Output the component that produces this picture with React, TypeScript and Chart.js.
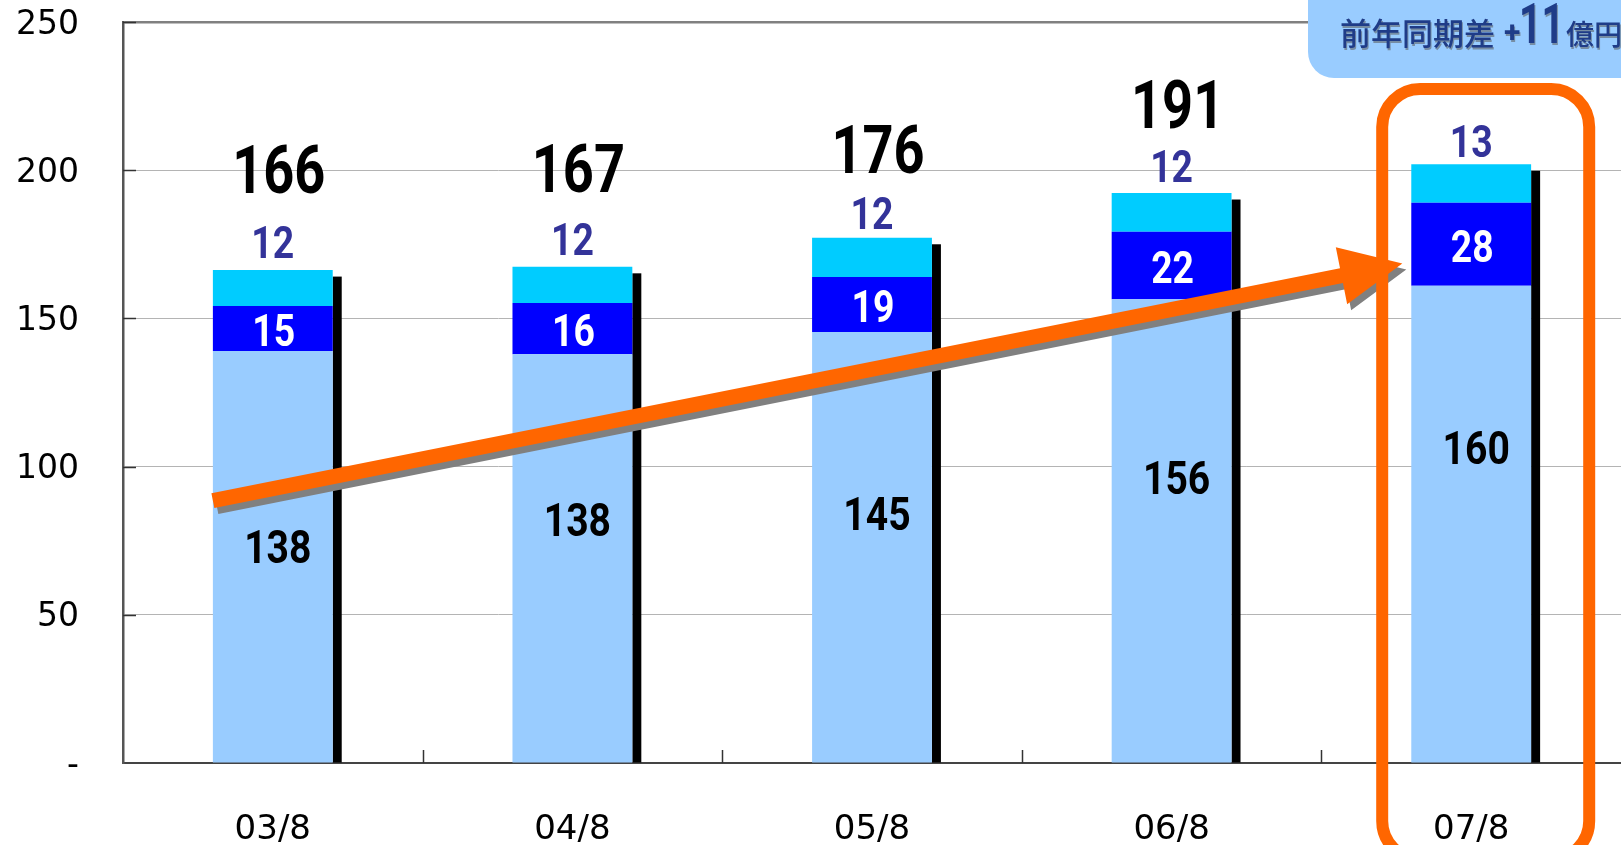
import React, { useEffect, useRef } from "react";
import { Chart, registerables } from "chart.js";

Chart.register(...registerables);

// ---- data ----
const categories = ["03/8", "04/8", "05/8", "06/8", "07/8"];
// segment heights as drawn in the picture
const baseValues = [139.0, 137.9, 145.4, 156.5, 161.0];
const midValues = [15.2, 17.3, 18.6, 22.7, 28.0];
const topValues = [12.1, 12.2, 13.2, 13.1, 13.0];
// numbers printed on the chart
const baseLabels = ["138", "138", "145", "156", "160"];
const midLabels = ["15", "16", "19", "22", "28"];
const topLabels = ["12", "12", "12", "12", "13"];
const totalLabels = ["166", "167", "176", "191", ""];
const yTickValues = [0, 50, 100, 150, 200, 250];
const badgeLead = "前年同期差";
const badgeDiff = "11";
const badgeUnit = "億円";

// ---- annotation anchors (positions, not data) ----
const baseLabelAt = [73, 82, 84, 96.4, 106.5]; // value units where the base labels sit
const totalLift = [101, 98, 88, 88, 0]; // px above the bar top
const topLift = [28, 27, 24, 27, 23]; // px above the bar top
const arrowFrom = { i: -0.2, v: 88.5 };
const arrowTo = { i: 3.77, v: 168.5 };

const NUM_FONT = "Roboto, 'Liberation Sans', sans-serif";
const AXIS_FONT = "'DejaVu Sans', sans-serif";

function numText(ctx: any, text: string, x: number, y: number, size: number, color: string, sx = 0.85) {
  ctx.save();
  ctx.font = `bold ${size}px ${NUM_FONT}`;
  ctx.fillStyle = color;
  ctx.textAlign = "center";
  ctx.textBaseline = "alphabetic";
  ctx.translate(x, y + size * 0.355);
  ctx.scale(sx, 1);
  ctx.fillText(text, 0, 0);
  ctx.restore();
}

const overlay = {
  id: "overlay",
  beforeDatasetsDraw(chart: any) {
    const ctx = chart.ctx;
    const top = chart.getDatasetMeta(2).data;
    const base = chart.getDatasetMeta(0).data;
    ctx.save();
    ctx.fillStyle = "#000";
    top.forEach((bar: any, i: number) => {
      const p = bar.getProps(["x", "y", "width"], true);
      const b = base[i].getProps(["base"], true).base;
      const x = p.x + p.width / 2;
      const y = p.y + 6.5;
      ctx.fillRect(x, y, 9, b - y);
    });
    ctx.restore();
  },
  afterDatasetsDraw(chart: any) {
    const ctx = chart.ctx;
    const xs = chart.scales.x;
    const ys = chart.scales.y;
    const area = chart.chartArea;

    // inside tick marks
    ctx.save();
    ctx.strokeStyle = "#333";
    ctx.lineWidth = 1.5;
    for (let i = 0; i < categories.length - 1; i++) {
      const x = Math.round(xs.getPixelForValue(i + 0.5)) + 0.5;
      ctx.beginPath();
      ctx.moveTo(x, area.bottom);
      ctx.lineTo(x, area.bottom - 13);
      ctx.stroke();
    }
    yTickValues.forEach((v) => {
      if (v === 0) return;
      const y = Math.round(ys.getPixelForValue(v)) + 0.5;
      ctx.beginPath();
      ctx.moveTo(area.left, y);
      ctx.lineTo(area.left + 13, y);
      ctx.stroke();
    });
    ctx.restore();

    // labels
    const topMeta = chart.getDatasetMeta(2).data;
    const midMeta = chart.getDatasetMeta(1).data;
    categories.forEach((_, i) => {
      const tp = topMeta[i].getProps(["x", "y"], true);
      const mp = midMeta[i].getProps(["y", "base"], true);
      if (totalLabels[i]) numText(ctx, totalLabels[i], tp.x + 6, tp.y - totalLift[i], 66, "#000", 0.82);
      numText(ctx, topLabels[i], tp.x, tp.y - topLift[i], 44, "#333399");
      numText(ctx, midLabels[i], tp.x + 1, (mp.y + mp.base) / 2 + 2, 44, "#fff");
      numText(ctx, baseLabels[i], tp.x + 5, ys.getPixelForValue(baseLabelAt[i]), 46, "#000");
    });

    // arrow
    const x0 = xs.getPixelForValue(arrowFrom.i);
    const y0 = ys.getPixelForValue(arrowFrom.v);
    const x1 = xs.getPixelForValue(arrowTo.i);
    const y1 = ys.getPixelForValue(arrowTo.v);
    const drawArrow = (dx: number, dy: number, color: string) => {
      const ang = Math.atan2(y1 - y0, x1 - x0);
      const len = Math.hypot(x1 - x0, y1 - y0);
      const shaft = 15;
      const headLen = 62;
      const headW = 58;
      ctx.save();
      ctx.translate(x0 + dx, y0 + dy);
      ctx.rotate(ang);
      ctx.fillStyle = color;
      ctx.beginPath();
      ctx.moveTo(0, -shaft / 2);
      ctx.lineTo(len - headLen, -shaft / 2);
      ctx.lineTo(len - headLen, -headW / 2);
      ctx.lineTo(len, 0);
      ctx.lineTo(len - headLen, headW / 2);
      ctx.lineTo(len - headLen, shaft / 2);
      ctx.lineTo(0, shaft / 2);
      ctx.closePath();
      ctx.fill();
      ctx.restore();
    };
    drawArrow(4, 6, "#808080");
    drawArrow(0, 0, "#FF6600");

    // highlight frame around last category
    const cx = xs.getPixelForValue(categories.length - 1);
    ctx.save();
    ctx.strokeStyle = "#FF6600";
    ctx.lineWidth = 12;
    ctx.beginPath();
    (ctx as any).roundRect(cx - 89, 89, 207, 770, 38);
    ctx.stroke();
    ctx.restore();

    // badge
    const W = chart.width;
    const bx = W - 313;
    ctx.save();
    ctx.fillStyle = "#99CCFF";
    ctx.beginPath();
    (ctx as any).roundRect(bx, -60, 400, 138, 26);
    ctx.fill();
    ctx.shadowColor = "rgba(90,90,90,0.55)";
    ctx.shadowOffsetX = 1;
    ctx.shadowOffsetY = 1.5;
    ctx.shadowBlur = 0;
    ctx.fillStyle = "#1F3C88";
    ctx.textBaseline = "alphabetic";
    ctx.textAlign = "left";
    const base = 45;
    ctx.font = `500 31px 'Noto Sans CJK JP', sans-serif`;
    ctx.fillText(badgeLead, bx + 32, base);
    ctx.font = `bold 30px ${NUM_FONT}`;
    ctx.fillText("+", bx + 196, base - 3);
    ctx.save();
    ctx.font = `bold 56px ${NUM_FONT}`;
    ctx.translate(bx + 211, base - 2);
    ctx.scale(0.7, 1);
    ctx.fillText(badgeDiff, 0, 0);
    ctx.restore();
    ctx.font = `500 28px 'Noto Sans CJK JP', sans-serif`;
    ctx.fillText(badgeUnit, bx + 258, base);
    ctx.restore();
  },
};

export default function App() {
  const ref = useRef<HTMLCanvasElement | null>(null);

  useEffect(() => {
    document.body.style.margin = "0";
    document.body.style.overflow = "hidden";
    const canvas = ref.current;
    if (!canvas) return;
    const chart = new Chart(canvas, {
      type: "bar",
      data: {
        labels: categories,
        datasets: [
          { label: "base", data: baseValues, backgroundColor: "#99CCFF", stack: "s" },
          { label: "mid", data: midValues, backgroundColor: "#0000FF", stack: "s" },
          { label: "top", data: topValues, backgroundColor: "#00CCFF", stack: "s" },
        ],
      },
      options: {
        animation: false,
        responsive: false,
        devicePixelRatio: 1,
        layout: { padding: { top: 22, right: 0, left: 0, bottom: 0 } },
        datasets: { bar: { barPercentage: 0.4, categoryPercentage: 1.0 } },
        plugins: { legend: { display: false }, tooltip: { enabled: false } },
        scales: {
          x: {
            stacked: true,
            grid: { display: false, drawTicks: false },
            border: { display: true, color: "#444", width: 2 },
            ticks: { font: { family: AXIS_FONT, size: 34 }, color: "#000", padding: 47 },
            afterFit: (s: any) => {
              s.height = 82;
              s.paddingLeft = 0;
              s.paddingRight = 0;
            },
          },
          y: {
            stacked: true,
            min: 0,
            max: 250,
            afterBuildTicks: (s: any) => {
              s.ticks = yTickValues.map((v) => ({ value: v }));
            },
            ticks: {
              font: { family: AXIS_FONT, size: 33 },
              color: "#000",
              padding: 44,
              labelOffset: 3,
              callback: (v: any) => (Number(v) === 0 ? "-" : String(v)),
            },
            grid: {
              drawTicks: false,
              color: (c: any) => (c.tick && c.tick.value === 250 ? "#808080" : c.tick && c.tick.value === 0 ? "#444" : "#b4b4b4"),
              lineWidth: (c: any) => (c.tick && c.tick.value === 250 ? 2.5 : 1),
            },
            border: { display: true, color: "#555", width: 2.5 },
            afterFit: (s: any) => {
              s.width = 123;
              s.paddingTop = 0;
              s.paddingBottom = 0;
            },
          },
        },
      },
      plugins: [overlay],
    });
    return () => chart.destroy();
  }, []);

  return (
    <div style={{ position: "absolute", left: 0, top: 0, width: 1621, height: 845, background: "#fff" }}>
      <canvas ref={ref} width={1621} height={845} style={{ display: "block", width: 1621, height: 845 }} />
    </div>
  );
}
